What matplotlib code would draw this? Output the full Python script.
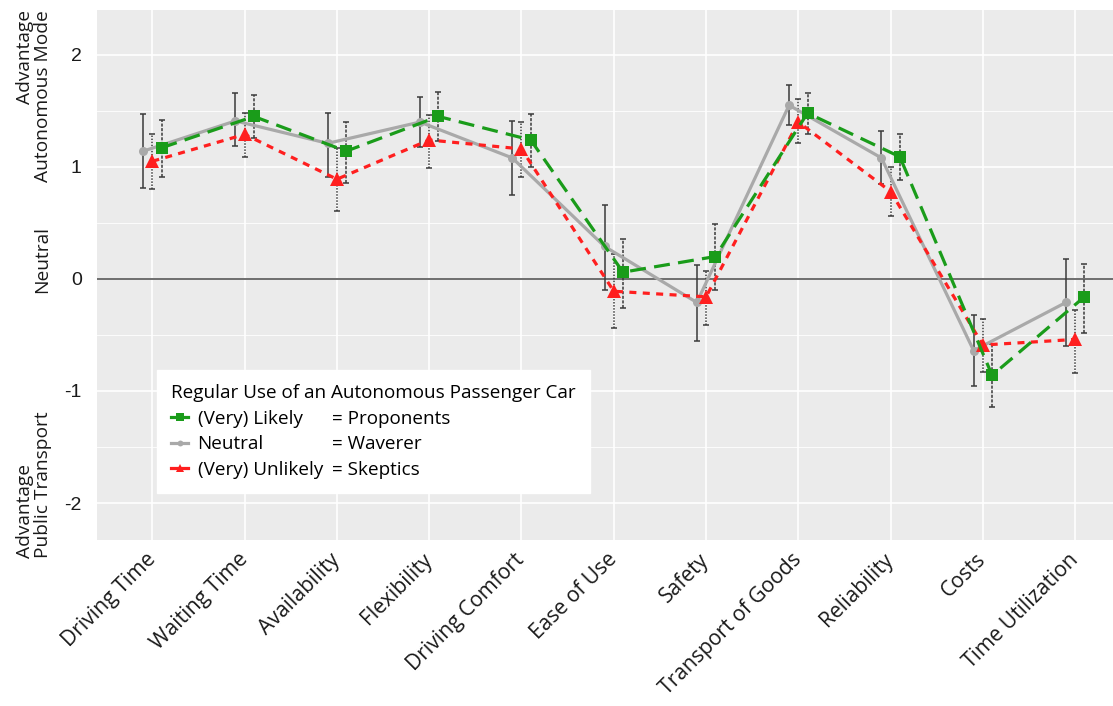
import numpy as np
import matplotlib
matplotlib.use('Agg')
import matplotlib.pyplot as plt
from matplotlib.lines import Line2D

categories=['Driving Time','Waiting Time','Availability','Flexibility','Driving Comfort',
	'Ease of Use','Safety','Transport of Goods','Reliability','Costs','Time Utilization']

# Proponents: (Very) Likely
pro_mean=[1.17,1.45,1.14,1.45,1.24,0.06,0.20,1.48,1.09,-0.86,-0.16]
pro_lo=[0.91,1.26,0.86,1.23,1.00,-0.26,-0.10,1.29,0.88,-1.14,-0.48]
pro_hi=[1.42,1.64,1.40,1.67,1.47,0.36,0.49,1.66,1.29,-0.58,0.13]
# Waverer: Neutral
neu_mean=[1.14,1.41,1.21,1.40,1.08,0.29,-0.21,1.55,1.08,-0.64,-0.21]
neu_lo=[0.81,1.19,0.91,1.18,0.75,-0.10,-0.55,1.37,0.85,-0.96,-0.60]
neu_hi=[1.47,1.66,1.48,1.62,1.41,0.66,0.12,1.73,1.32,-0.32,0.18]
# Skeptics: (Very) Unlikely
ske_mean=[1.05,1.29,0.89,1.24,1.16,-0.11,-0.16,1.40,0.78,-0.59,-0.54]
ske_lo=[0.80,1.09,0.61,0.99,0.91,-0.44,-0.41,1.21,0.56,-0.83,-0.84]
ske_hi=[1.29,1.48,1.17,1.46,1.40,0.22,0.07,1.61,1.00,-0.36,-0.28]

legendTitle='Regular Use of an Autonomous Passenger Car'
groupNames=['(Very) Likely','Neutral','(Very) Unlikely']
groupRoles=['= Proponents','= Waverer','= Skeptics']
yticks=[-2,-1,0,1,2]

txtFont=['Open Sans','DejaVu Sans']
numFont=['Liberation Sans','DejaVu Sans']
green='#1a9c1a'
grey='#a9a9a9'
red='#ff1f1f'

fig=plt.figure(figsize=(11.13,7.06),dpi=100)
ax=fig.add_axes([97/1113,166/706,1-97/1113,530/706])
ax.set_facecolor('#ebebeb')
for s in ax.spines.values():
	s.set_visible(False)

x=np.arange(len(categories))
series=[
	(neu_mean,neu_lo,neu_hi,-0.10,grey,'-','o',6.5,'solid'),
	(ske_mean,ske_lo,ske_hi,0.0,red,(0,(2.2,2.0)),'^',9.5,(0,(1,1))),
	(pro_mean,pro_lo,pro_hi,0.10,green,(0,(5,2.6)),'s',8,(0,(2,1))),
]
handles=[]
for mean,lo,hi,off,col,ls,mk,ms,els in series:
	mean=np.array(mean);lo=np.array(lo);hi=np.array(hi)
	xx=x+off
	eb=ax.errorbar(xx,mean,yerr=[mean-lo,hi-mean],fmt='none',ecolor='#3a3a3a',
		elinewidth=1.1,capsize=2,capthick=1.1,zorder=3)
	eb[2][0].set_linestyle(els)
	h,=ax.plot(xx,mean,color=col,linestyle=ls,linewidth=2.3,marker=mk,markersize=ms,
		markeredgewidth=0,zorder=4)
	handles.append(h)

ax.axhline(0,color='#6e6e6e',linewidth=1.4,zorder=2)
ax.set_xlim(-0.6,10.41)
ax.set_ylim(-2.33,2.40)
ax.set_yticks(yticks)
ax.set_yticks([-1.5,-0.5,0.5,1.5],minor=True)
ax.set_yticklabels([str(v) for v in yticks],family=numFont,fontsize=14,color='#1a1a1a')
ax.set_xticks(x)
ax.set_xticklabels(categories,rotation=45,ha='right',va='center',rotation_mode='anchor',
	family=txtFont,fontsize=15.2,color='#1a1a1a')
ax.tick_params(axis='both',which='both',length=0)
ax.tick_params(axis='y',pad=11)
ax.tick_params(axis='x',pad=12)
ax.grid(which='major',color='white',linewidth=1.2)
ax.grid(which='minor',axis='y',color='white',linewidth=0.6)
ax.set_axisbelow(True)

# legend: group names in first column, roles in second
order=[handles[2],handles[0],handles[1]]
blank=[Line2D([],[],linestyle='none') for _ in range(3)]
leg=ax.legend(order+blank,groupNames+groupRoles,ncol=2,title=legendTitle,
	loc='lower left',bbox_to_anchor=(0.059,0.0887),borderaxespad=0,frameon=True,fancybox=False,
	edgecolor='white',framealpha=1,prop={'family':txtFont,'size':13.6},
	title_fontproperties={'family':txtFont,'size':13.6},
	handlelength=0.9,handletextpad=0.5,columnspacing=-0.9,labelspacing=0.4,
	borderpad=0.75,markerscale=0.65)
leg._legend_box.align='left'
for h in leg.legend_handles[:3]:
	h.set_linestyle('-')

fig.text(0.014,0.986,'Advantage\nAutonomous Mode',rotation=90,ha='left',va='top',
	multialignment='right',family=txtFont,fontsize=13.8,color='#1a1a1a',linespacing=1.0)
fig.text(0.030,0.632,'Neutral',rotation=90,ha='left',va='center',
	family=txtFont,fontsize=13.8,color='#1a1a1a')
fig.text(0.014,0.210,'Advantage\nPublic Transport',rotation=90,ha='left',va='bottom',
	multialignment='left',family=txtFont,fontsize=13.8,color='#1a1a1a',linespacing=1.0)

plt.savefig('out.png',dpi=100)
